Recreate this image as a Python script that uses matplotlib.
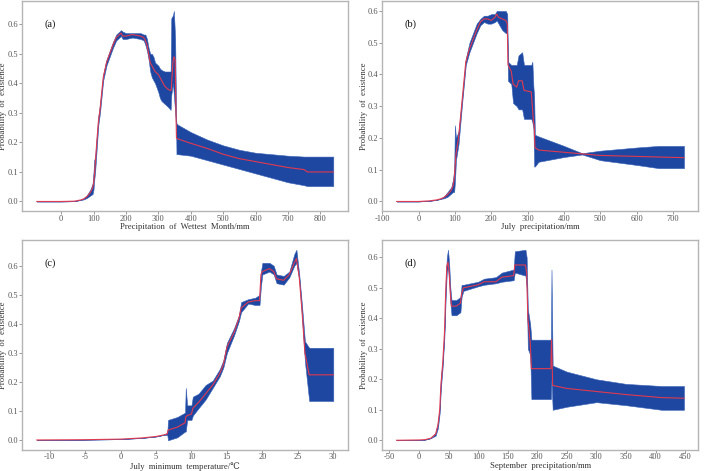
#!/usr/bin/env python

import matplotlib
matplotlib.use("Agg")
import matplotlib.pyplot as plt

# panel (a): precipitation of wettest month
a_x    = [-75, 0, 40, 60, 70, 80, 90, 97, 100, 102, 105, 110, 115, 120, 130, 140, 150, 160, 170, 180, 185, 190, 200, 220, 245, 255, 260, 265, 270, 275, 280, 285, 290, 300, 305, 310, 320, 330, 338, 340, 345, 348, 352, 355, 356, 360, 400, 450, 500, 550, 600, 650, 700, 750, 760, 840]
a_mean = [0, 0, 0.001, 0.005, 0.009, 0.017, 0.03, 0.045, 0.06, 0.08, 0.12, 0.2, 0.27, 0.31, 0.42, 0.47, 0.5, 0.53, 0.555, 0.565, 0.57, 0.56, 0.56, 0.565, 0.56, 0.555, 0.545, 0.53, 0.5, 0.47, 0.46, 0.45, 0.44, 0.43, 0.42, 0.41, 0.39, 0.38, 0.375, 0.38, 0.47, 0.49, 0.48, 0.27, 0.215, 0.212, 0.197, 0.18, 0.16, 0.145, 0.135, 0.125, 0.115, 0.108, 0.1, 0.1]
a_lo   = [0, 0, 0.001, 0.005, 0.007, 0.012, 0.02, 0.025, 0.04, 0.07, 0.10, 0.18, 0.26, 0.30, 0.41, 0.46, 0.49, 0.52, 0.545, 0.555, 0.56, 0.55, 0.55, 0.555, 0.55, 0.545, 0.53, 0.51, 0.48, 0.44, 0.42, 0.41, 0.40, 0.37, 0.35, 0.34, 0.33, 0.32, 0.31, 0.36, 0.40, 0.36, 0.30, 0.25, 0.16, 0.16, 0.155, 0.14, 0.125, 0.11, 0.095, 0.08, 0.065, 0.055, 0.052, 0.052]
a_hi   = [0, 0, 0.001, 0.005, 0.011, 0.022, 0.04, 0.06, 0.10, 0.14, 0.15, 0.22, 0.29, 0.33, 0.43, 0.48, 0.51, 0.54, 0.565, 0.575, 0.58, 0.575, 0.57, 0.57, 0.57, 0.565, 0.565, 0.55, 0.52, 0.50, 0.50, 0.49, 0.47, 0.46, 0.45, 0.445, 0.44, 0.44, 0.44, 0.62, 0.63, 0.645, 0.55, 0.28, 0.265, 0.26, 0.235, 0.21, 0.19, 0.175, 0.165, 0.16, 0.155, 0.152, 0.152, 0.152]

# panel (b): July precipitation
b_x    = [-60, 0, 30, 50, 60, 70, 80, 90, 95, 98, 100, 103, 110, 120, 130, 140, 150, 160, 170, 180, 190, 200, 210, 215, 220, 230, 240, 244, 246, 255, 260, 270, 275, 285, 290, 310, 313, 316, 318, 320, 330, 400, 450, 500, 600, 660, 730]
b_mean = [0, 0, 0.002, 0.005, 0.008, 0.013, 0.022, 0.035, 0.05, 0.07, 0.1, 0.15, 0.2, 0.32, 0.44, 0.48, 0.51, 0.54, 0.565, 0.575, 0.575, 0.57, 0.58, 0.59, 0.58, 0.575, 0.57, 0.56, 0.43, 0.41, 0.37, 0.36, 0.38, 0.38, 0.35, 0.345, 0.3, 0.25, 0.24, 0.17, 0.162, 0.155, 0.15, 0.145, 0.142, 0.14, 0.138]
b_lo   = [0, 0, 0.002, 0.005, 0.008, 0.01, 0.015, 0.025, 0.03, 0.03, 0.06, 0.13, 0.18, 0.31, 0.43, 0.47, 0.50, 0.53, 0.555, 0.565, 0.56, 0.56, 0.565, 0.57, 0.56, 0.54, 0.53, 0.53, 0.38, 0.37, 0.31, 0.30, 0.29, 0.29, 0.26, 0.26, 0.25, 0.23, 0.11, 0.11, 0.125, 0.14, 0.148, 0.13, 0.115, 0.105, 0.105]
b_hi   = [0, 0, 0.002, 0.005, 0.008, 0.016, 0.03, 0.045, 0.07, 0.10, 0.24, 0.20, 0.22, 0.33, 0.45, 0.50, 0.53, 0.56, 0.575, 0.585, 0.585, 0.59, 0.59, 0.60, 0.60, 0.60, 0.60, 0.59, 0.44, 0.43, 0.43, 0.43, 0.46, 0.47, 0.43, 0.43, 0.44, 0.36, 0.33, 0.21, 0.205, 0.175, 0.152, 0.16, 0.17, 0.175, 0.175]

# panel (c): July minimum temperature
c_x    = [-11.8, -5, 0, 3, 5, 6, 6.6, 6.7, 8, 9.1, 9.2, 9.4, 10, 10.2, 11, 12, 13, 14, 14.5, 15, 16, 16.7, 17, 18, 19, 19.6, 19.8, 20, 21, 21.6, 22, 23, 23.8, 24.5, 24.8, 25.2, 25.6, 26, 26.6, 30]
c_mean = [0.001, 0.002, 0.004, 0.008, 0.013, 0.018, 0.022, 0.035, 0.045, 0.06, 0.08, 0.085, 0.09, 0.11, 0.13, 0.16, 0.19, 0.23, 0.26, 0.32, 0.37, 0.42, 0.455, 0.475, 0.48, 0.48, 0.57, 0.58, 0.59, 0.58, 0.555, 0.55, 0.57, 0.61, 0.625, 0.56, 0.44, 0.3, 0.225, 0.225]
c_lo   = [0.001, 0.002, 0.004, 0.008, 0.013, 0.018, 0.018, 0.0, 0.01, 0.03, 0.03, 0.07, 0.07, 0.085, 0.11, 0.14, 0.18, 0.22, 0.25, 0.30, 0.36, 0.41, 0.44, 0.47, 0.465, 0.465, 0.53, 0.57, 0.58, 0.57, 0.54, 0.535, 0.56, 0.60, 0.61, 0.55, 0.42, 0.27, 0.135, 0.135]
c_hi   = [0.001, 0.002, 0.004, 0.008, 0.013, 0.018, 0.026, 0.07, 0.08, 0.095, 0.18, 0.12, 0.12, 0.15, 0.16, 0.19, 0.205, 0.245, 0.275, 0.335, 0.385, 0.43, 0.475, 0.485, 0.49, 0.50, 0.58, 0.61, 0.61, 0.60, 0.57, 0.565, 0.58, 0.64, 0.655, 0.57, 0.46, 0.34, 0.318, 0.318]

# panel (d): September precipitation
d_x    = [-38, 0, 10, 20, 28, 32, 35, 37, 40, 43, 45, 47, 49, 51, 53, 55, 63, 70, 72, 75, 100, 110, 130, 140, 160, 162, 180, 182, 184, 188, 190, 223, 224, 226, 250, 300, 350, 410, 448]
d_mean = [0, 0.001, 0.002, 0.007, 0.02, 0.05, 0.1, 0.18, 0.25, 0.35, 0.48, 0.57, 0.585, 0.55, 0.48, 0.44, 0.44, 0.45, 0.48, 0.5, 0.51, 0.52, 0.52, 0.535, 0.54, 0.575, 0.575, 0.55, 0.4, 0.32, 0.235, 0.235, 0.33, 0.18, 0.17, 0.16, 0.15, 0.14, 0.138]
d_lo   = [0, 0.001, 0.002, 0.007, 0.015, 0.04, 0.09, 0.17, 0.24, 0.34, 0.46, 0.55, 0.57, 0.52, 0.45, 0.41, 0.41, 0.42, 0.47, 0.49, 0.505, 0.51, 0.515, 0.52, 0.525, 0.55, 0.54, 0.5, 0.3, 0.28, 0.135, 0.135, 0.2, 0.1, 0.11, 0.125, 0.115, 0.1, 0.1]
d_hi   = [0, 0.001, 0.002, 0.007, 0.025, 0.06, 0.11, 0.21, 0.26, 0.37, 0.52, 0.6, 0.625, 0.58, 0.5, 0.46, 0.46, 0.47, 0.51, 0.51, 0.52, 0.53, 0.535, 0.55, 0.56, 0.62, 0.625, 0.6, 0.43, 0.38, 0.33, 0.33, 0.56, 0.245, 0.225, 0.2, 0.185, 0.178, 0.178]

panels = [
    ("(a)", a_x, a_mean, a_lo, a_hi, "Precipitation  of  Wettest  Month/mm", list(range(0, 801, 100))),
    ("(b)", b_x, b_mean, b_lo, b_hi, "July  precipitation/mm", list(range(-100, 701, 100))),
    ("(c)", c_x, c_mean, c_lo, c_hi, "July  minimum  temperature/\u2103", list(range(-10, 31, 5))),
    ("(d)", d_x, d_mean, d_lo, d_hi, "September  precipitation/mm", list(range(-50, 451, 50))),
]
y_ticks = [0.0, 0.1, 0.2, 0.3, 0.4, 0.5, 0.6]

# axes boxes in figure fractions: left, bottom, width, height
boxes = [
    [0.031, 0.552, 0.460, 0.445],
    [0.539, 0.552, 0.446, 0.445],
    [0.031, 0.045, 0.460, 0.445],
    [0.539, 0.045, 0.446, 0.445],
]

def main():
    plt.rcParams['font.family'] = ['Liberation Serif', 'DejaVu Serif']
    plt.rcParams['axes.unicode_minus'] = False
    fig = plt.figure(figsize=(7.09, 4.71), dpi=100)

    for (tag, x, m, lo, hi, xlabel, xticks), box in zip(panels, boxes):
        ax = fig.add_axes(box)
        ax.fill_between(x, lo, hi, color='#1d47a1', linewidth=0.4, edgecolor='#3a63b8')
        ax.plot(x, m, '-', color='#e03a50', lw=0.8)
        ax.margins(x=0.05, y=0.05)
        ax.set_xticks(xticks)
        ax.set_yticks(y_ticks)
        ax.set_yticklabels(["{:.1f}".format(v) for v in y_ticks])
        ax.tick_params(length=2, width=0.6, color='#888888', labelcolor='#555555',
                       labelsize=6, pad=0.6)
        for s in ax.spines.values():
            s.set_color('#b5b5b5')
            s.set_linewidth(1.0)
        w = box[2] * 709
        h = box[3] * 471
        ax.set_xlabel(xlabel, fontsize=6.2, color='#333333')
        ax.xaxis.set_label_coords(0.5, -12.0 / h)
        ax.set_ylabel("Probability  of  existence", fontsize=6.2, color='#333333')
        ax.yaxis.set_label_coords(-14.5 / w, 0.5)
        ax.text(0.07, 0.88, tag, transform=ax.transAxes, fontsize=7.5, color='#111111')

    fig.savefig("out.png", dpi=100)

if __name__ == "__main__":
    main()
